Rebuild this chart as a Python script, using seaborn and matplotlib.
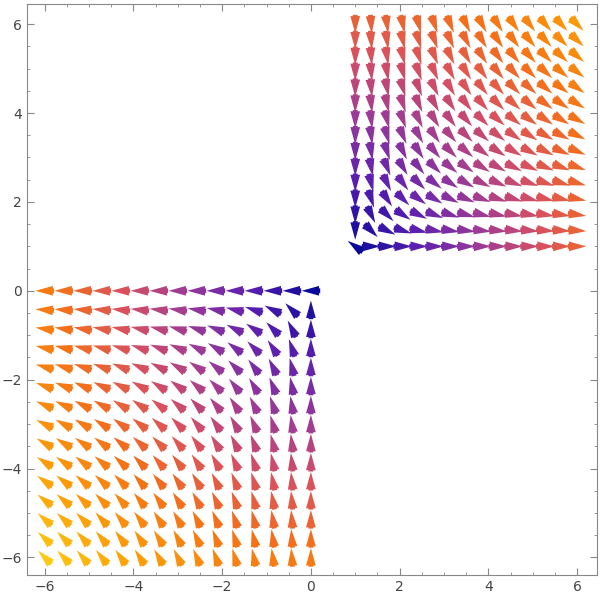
import numpy as np
import matplotlib
matplotlib.use("Agg")
import matplotlib.pyplot as plt
import seaborn as sns
from matplotlib.colors import LinearSegmentedColormap

sns.set_style("ticks")
plt.rcParams['font.family'] = ['DejaVu Sans']

# Grid of sample points for the two regions
x_lower = np.linspace(-6, 0, 15)
y_lower = np.linspace(-6, 0, 15)
x_upper = np.linspace(1, 6, 15)
y_upper = np.linspace(1, 6, 15)
# Field centers for each region: v = (x - cx, -(y - cy))
centers = [(0.0, 0.0), (1.0, 1.0)]
zero_angles = [np.pi, 0.8 * np.pi]
tick_values = [-6, -4, -2, 0, 2, 4, 6]

cmap = LinearSegmentedColormap.from_list(
    "sunset", ["#0a0a9a", "#5a1eb0", "#9a3a98", "#d85060", "#f57018", "#fb9a08", "#ffc812"])

fig, ax = plt.subplots(figsize=(6, 6.01), dpi=100)
fig.subplots_adjust(left=0.045, right=0.995, top=0.993, bottom=0.043)

arrow_len = 0.42
for (xs, ys), (cx, cy), za in zip([(x_lower, y_lower), (x_upper, y_upper)], centers, zero_angles):
    X, Y = np.meshgrid(xs, ys)
    U = X - cx
    V = -(Y - cy)
    M = np.hypot(U, V)
    ang = np.arctan2(V, U)
    ang[M == 0] = za
    Un = np.cos(ang) * arrow_len
    Vn = np.sin(ang) * arrow_len
    ax.quiver(X - Un / 2, Y - Vn / 2, Un, Vn, M / 8.5, cmap=cmap, clim=(0, 1),
              angles='xy', scale_units='xy', scale=1, pivot='tail',
              width=0.0085, headwidth=2.0, headlength=3.6, headaxislength=3.6)

ax.set_xlim(-6.4, 6.45)
ax.set_ylim(-6.4, 6.45)
ax.set_aspect('auto')
ax.set_xticks(tick_values)
ax.set_yticks(tick_values)
ax.set_xticklabels(["\u22126", "\u22124", "\u22122", "0", "2", "4", "6"])
ax.set_yticklabels(["\u22126", "\u22124", "\u22122", "0", "2", "4", "6"])
ax.minorticks_on()
ax.xaxis.set_minor_locator(matplotlib.ticker.MultipleLocator(0.5))
ax.yaxis.set_minor_locator(matplotlib.ticker.MultipleLocator(0.5))
ax.tick_params(which='both', direction='in', top=True, right=True, colors='#888888',
               labelcolor='#444444', labelsize=10)
ax.tick_params(which='major', length=5)
ax.tick_params(which='minor', length=2.5)
for s in ax.spines.values():
    s.set_color('#888888')

fig.savefig("out.png")
